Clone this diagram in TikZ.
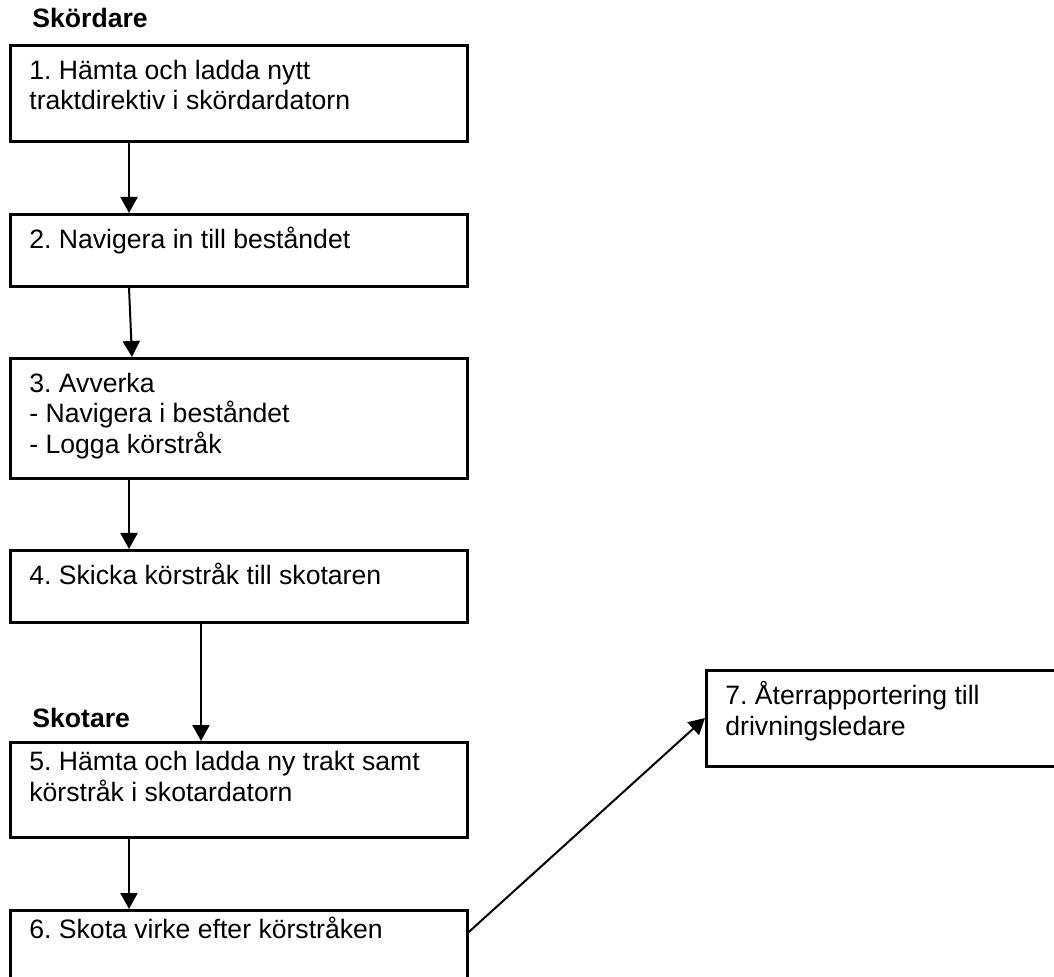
\documentclass[tikz,border=0pt]{standalone}
\usepackage{fontspec}
\setmainfont{Liberation Sans}
\frenchspacing
\usetikzlibrary{calc,arrows.meta}
\tikzset{
  box/.style={draw, line width=1.4pt, rectangle, anchor=north west, inner sep=0pt,
    minimum width=228.5pt},
  boxtext/.style={anchor=north west, inner sep=0pt, align=left,
    font=\fontsize{13.3pt}{15.3pt}\selectfont},
  role/.style={anchor=base west, inner sep=0pt, font=\fontsize{13.3pt}{15.3pt}\selectfont\bfseries},
  arr/.style={line width=1pt, -{Triangle[length=8pt,width=8.5pt]}}
}
\newcommand{\fl}{\rule{0pt}{12pt}}
\begin{document}
\begin{tikzpicture}[x=0.5pt,y=-0.5pt]
\useasboundingbox (0,0) rectangle (1054,977);

% role headings
\node[role] (skordare) at (32,28) {Skördare};
\node[role] (skotare) at (32,727) {Skotare};

% process boxes
\node[box, minimum height=48pt] (b1) at (9,44) {};
\node[box, minimum height=36pt] (b2) at (9,213) {};
\node[box, minimum height=60pt] (b3) at (9,357) {};
\node[box, minimum height=36pt] (b4) at (9,549) {};
\node[box, minimum height=47.5pt] (b5) at (9,741) {};
\node[box, minimum height=36pt] (b6) at (9,909) {};
\node[box, minimum height=48pt] (b7) at (705,669) {};

% box texts
\node[boxtext] (t1) at ($(b1.north west)+(20,11)$) {\fl 1. Hämta och ladda nytt\\traktdirektiv i skördardatorn};
\node[boxtext] (t2) at ($(b2.north west)+(20,11)$) {\fl 2. Navigera in till beståndet};
\node[boxtext] (t3) at ($(b3.north west)+(20,11)$) {\fl 3. Avverka\\- Navigera i beståndet\\- Logga körstråk};
\node[boxtext] (t4) at ($(b4.north west)+(20,11)$) {\fl 4. Skicka körstråk till skotaren};
\node[boxtext] (t5) at ($(b5.north west)+(20,5)$) {\fl 5. Hämta och ladda ny trakt samt\\körstråk i skotardatorn};
\node[boxtext] (t6) at ($(b6.north west)+(20,5)$) {\fl 6. Skota virke efter körstråken};
\node[boxtext] (t7) at ($(b7.north west)+(20,11)$) {\fl 7. Återrapportering till\\drivningsledare};

% connectors
\draw[arr] ($(b1.south west)+(120,0)$) -- ($(b2.north west)+(120,0)$);
\draw[arr] ($(b2.south west)+(120,0)$) -- ($(b3.north west)+(123,0)$);
\draw[arr] ($(b3.south west)+(120,0)$) -- ($(b4.north west)+(120,0)$);
\draw[arr] ($(b4.south west)+(192,0)$) -- ($(b5.north west)+(192,0)$);
\draw[arr] ($(b5.south west)+(120,0)$) -- ($(b6.north west)+(120,0)$);
\draw[arr] ($(b6.north east)+(0,23)$) -- ($(b7.north west)+(0,49)$);
\end{tikzpicture}
\end{document}
